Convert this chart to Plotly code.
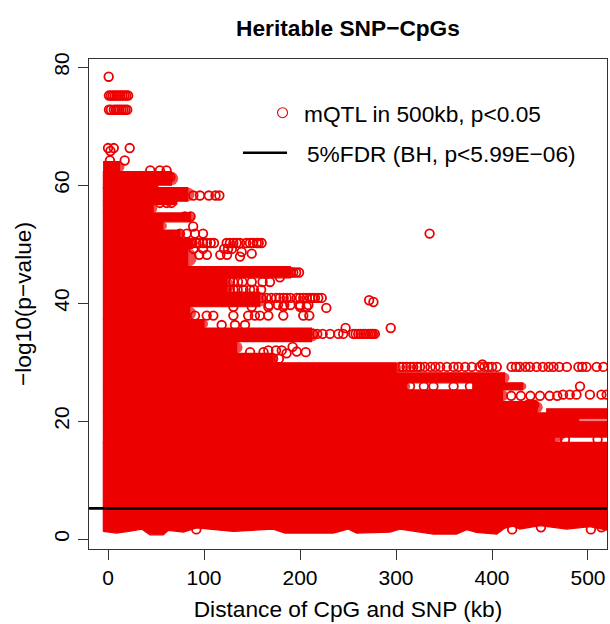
import plotly.graph_objects as go

RED = "#ec0000"
FONT = "Liberation Sans"

# Solid mass of overlapped points, read row by row (-log10 p, kb)
row_lo = [62.3, 60.0, 59.3, 57.3, 56.7, 55.3, 53.8, 52.4, 51.0, 49.3, 46.2, 44.3, 41.9, 39.4, 37.2, 35.8, 33.5, 31.5, 29.9, 28.2, 26.5, 25.3, 25.3, 23.4, 21.4, 21.4, 20.4, 20.0, 17.3, 16.4]
row_hi = [64.0, 62.3, 60.0, 59.6, 57.3, 56.7, 55.3, 53.8, 52.4, 51.0, 49.3, 46.2, 44.3, 41.9, 39.4, 37.2, 35.8, 33.5, 31.5, 29.9, 28.2, 26.5, 26.5, 25.3, 23.3, 22.1, 21.4, 20.4, 20.0, 21.4]
row_x0 = [-4.5, -4.8, -4.8, -4.8, -4.8, -4.8, -4.8, -4.8, -4.8, -4.8, -4.8, -4.8, -4.8, -4.8, -4.8, -4.8, -4.8, -4.8, -4.8, -4.8, -4.8, -4.8, 380, -4.8, -4.8, 457, 465, 465, 465, -4.8]
row_x1 = [12, 66, 51, 83, 71, 47, 86, 57, 75, 88, 83, 190, 124, 158, 85, 100, 212, 134, 172, 300, 413, 311, 432, 411, 447, 520, 520, 490, 520, 465]

# Lower edge of the cloud
bottom_x = [-4.9, 9, 26.4, 35, 43.75, 57.6, 62.8, 78.5, 92.4, 106, 130.6, 172, 184.4, 207, 234.7, 250, 259, 293.7, 304, 339, 363, 373.6, 384, 405, 413.5, 422, 429, 450, 477.8, 502, 520]
bottom_y = [1.31, 1.03, 1.42, 1.71, 0.74, 0.74, 1.48, 1.2, 1.9, 1.71, 1.31, 1.71, 1.03, 1.03, 1.03, 1.71, 1.03, 1.2, 1.71, 0.86, 0.86, 1.6, 1.14, 0.86, 1.88, 2.2, 1.71, 2.3, 1.71, 2.1, 1.5]
block_top = 16.4

# Individually visible points: level -> distances
levels = [
    (78.4, [0.7]),
    (75.2, [1, 3, 5, 7, 9, 11, 13, 15, 17, 19, 21]),
    (72.8, [1, 3, 6, 8, 10, 12, 14, 16, 18, 20]),
    (66.3, [0, 6, 22.6]),
    (65.8, [2.5]),
    (64.2, [2, 17.4]),
    (62.5, [44, 54, 61]),
    (61.4, [63, 65]),
    (58.25, [88.9, 95.8, 105, 112, 116]),
    (57.0, [54, 61, 66]),
    (54.7, [80, 86]),
    (53.0, [88.7]),
    (51.8, [75, 82, 90.6, 99]),
    (50.2, [55, 62, 70, 76, 83, 88, 92, 95, 99, 103, 107, 110.4, 123.6, 127, 130.6, 134, 137.5, 144, 147.9, 151, 154.9, 157, 160]),
    (49.2, [89, 99, 121, 125, 129]),
    (48.2, [95, 103, 117, 124]),
    (48.7, [139.2]),
    (47.9, [137.5]),
    (48.4, [149.7]),
    (45.2, [186, 190, 193, 196, 199]),
    (44.4, [179]),
    (43.6, [127, 130.5, 135.4, 140, 149.7, 161, 168.7]),
    (42.3, [106, 115, 123.6, 127, 130.6, 135, 141, 148, 152, 159.5]),
    (40.9, [160, 165, 170, 175, 179, 183, 186, 190, 196.6, 200, 203.4, 207, 210.4, 213, 215.6, 219, 222.6]),
    (39.7, [168, 177, 183.6, 190, 200, 208.7]),
    (39.4, [130.6, 149.7, 167, 182.6, 200, 207]),
    (39.2, [227.4]),
    (37.9, [90.6, 102.8, 109.7, 130.6, 146, 153, 158.3, 167, 182.6, 203.4, 209.7]),
    (36.3, [118.4, 132.3, 142.7]),
    (35.8, [247.5, 294.5]),
    (34.8, [213.9, 218, 223.6, 231.3, 240, 245, 255.5, 258, 260.7, 263, 266, 268, 271, 273, 274.7, 276, 278]),
    (40.5, [272]),
    (40.2, [276.5]),
    (51.8, [335]),
    (31.7, [206, 148, 162]),
    (31.8, [196.6]),
    (31.5, [186]),
    (32.6, [192.3]),
    (32.0, [167, 175, 181]),
    (30.6, [172, 178]),
    (29.2, [304, 307, 311, 315, 318, 322, 325, 330, 336, 341, 346, 353, 360, 365, 372, 379, 387, 392, 396, 400, 405, 420.4, 425, 429, 435, 439.6, 446.5, 453, 459, 464, 470, 478, 490, 494, 498.4, 509, 516]),
    (29.6, [390]),
    (25.9, [314.6, 329, 339, 360, 377, 491.7]),
    (24.5, [474, 481, 488, 502, 514, 519.5]),
    (24.3, [420, 430, 440, 450, 460, 468]),
    (22.8, [437.5, 444]),
    (16.9, [468, 476, 510]),
    (1.65, [92, 421, 503]),
    (2.0, [451, 514]),
]

fdr_level = 5.22
x_ticks = [0, 100, 200, 300, 400, 500]
y_ticks = [0, 20, 40, 60, 80]

row_xs, row_ys = [], []
for lo, hi, x0, x1 in zip(row_lo, row_hi, row_x0, row_x1):
    row_xs += [x0, x1, x1, x0, x0, None]
    row_ys += [lo, lo, hi, hi, lo, None]

pt_x, pt_y = [], []
for level, xs in levels:
    pt_x += xs
    pt_y += [level] * len(xs)

fig = go.Figure()
fig.add_trace(go.Scatter(x=bottom_x + [520, -4.9, -4.9], y=bottom_y + [block_top, block_top, bottom_y[0]],
                         mode="lines", fill="toself", fillcolor=RED,
                         line=dict(color=RED, width=1.2), hoverinfo="skip"))
fig.add_trace(go.Scatter(x=row_xs, y=row_ys, mode="lines", fill="toself", fillcolor=RED,
                         line=dict(color=RED, width=1.2), hoverinfo="skip"))
# rounded row ends
fig.add_trace(go.Scatter(x=[x1 for x1 in row_x1], y=[(lo + hi) / 2 for lo, hi in zip(row_lo, row_hi)], mode="markers",
                         marker=dict(symbol="circle", color=RED, size=[(hi - lo) * 5.9 for lo, hi in zip(row_lo, row_hi)], line=dict(width=0))))
fig.add_trace(go.Scatter(x=pt_x, y=pt_y, mode="markers",
                         marker=dict(symbol="circle-open", size=8.6, color=RED, line=dict(color=RED, width=1.8))))
fig.add_trace(go.Scatter(x=[-19.8, 519.8], y=[fdr_level, fdr_level], mode="lines",
                         line=dict(color="black", width=2.6)))
# key
fig.add_trace(go.Scatter(x=[181.8], y=[72.3], mode="markers",
                         marker=dict(symbol="circle-open", size=10, color=RED, line=dict(color=RED, width=1.1))))
fig.add_trace(go.Scatter(x=[140.6, 186.5], y=[65.5, 65.5], mode="lines",
                         line=dict(color="black", width=2.6)))

fig.add_annotation(x=203, y=72.1, text="mQTL in 500kb, p<0.05", showarrow=False, xanchor="left", yanchor="middle",
                   xshift=-1, font=dict(size=22.7, color="black", family=FONT))
fig.add_annotation(x=206.3, y=65.3, text="5%FDR (BH, p<5.99E\u221206)", showarrow=False, xanchor="left", yanchor="middle",
                   xshift=-1, font=dict(size=22.7, color="black", family=FONT))

axis_common = dict(showline=True, linecolor="#333333", linewidth=1.3, mirror=True, ticks="outside",
                   ticklen=10, tickwidth=1.2, tickcolor="#333333", showgrid=False, zeroline=False,
                   tickfont=dict(size=21, color="black", family=FONT))
fig.update_xaxes(range=[-19.8, 519.8], tickvals=x_ticks, ticktext=[str(t) for t in x_ticks],
                 title=dict(text="Distance of CpG and SNP (kb)", font=dict(size=22.7, color="black", family=FONT), standoff=12),
                 **axis_common)
fig.update_yaxes(range=[-1.67, 81.4], tickvals=y_ticks, ticktext=[str(t) for t in y_ticks], tickangle=-90,
                 title=dict(text="\u2212log10(p\u2212value)", font=dict(size=22.7, color="black", family=FONT), standoff=12),
                 **axis_common)
fig.update_layout(width=610, height=624, margin=dict(l=89, r=3, t=59, b=75, autoexpand=False),
                  paper_bgcolor="white", plot_bgcolor="white", showlegend=False,
                  title=dict(text="<b>Heritable SNP\u2212CpGs</b>", x=348/610, xanchor="center",
                             y=1-28/624, yanchor="middle", font=dict(size=22.7, color="black", family=FONT)))
fig.write_html("out.html", config=dict(displayModeBar=False),
               post_script="document.body.style.margin='0';document.body.style.overflow='hidden';")
